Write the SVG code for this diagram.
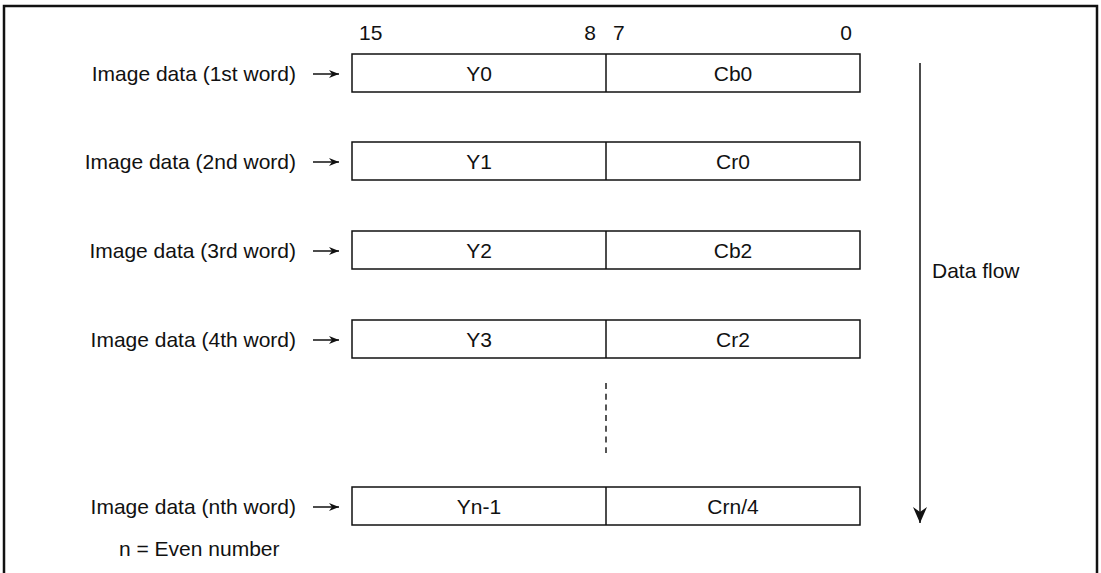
<svg xmlns="http://www.w3.org/2000/svg" width="1101" height="573" viewBox="0 0 1101 573">
<defs>
<style>
text{font-family:"Liberation Sans",Arial,sans-serif;font-size:21px;fill:#111}
.lbl{text-anchor:end}
.mid{text-anchor:middle}
.box{fill:#fff;stroke:#111;stroke-width:1.5}
.div{stroke:#111;stroke-width:1.5}
.ar{stroke:#111;stroke-width:1.5;fill:none}
</style>
<marker id="ah" viewBox="0 0 10 10" refX="10" refY="5" markerWidth="10" markerHeight="10" markerUnits="userSpaceOnUse" orient="auto">
<path d="M0,1 L10,5 L0,9 L3,5 Z" fill="#111"/>
</marker>
<marker id="big" viewBox="0 0 14 16" refX="7" refY="16" markerWidth="14" markerHeight="16" markerUnits="userSpaceOnUse" orient="0">
<path d="M0,0 L7,5 L14,0 L7,16 Z" fill="#111"/>
</marker>
</defs>
<rect width="1101" height="573" fill="#fff"/>
<path d="M4,573 V6 H1097 V573" fill="none" stroke="#111" stroke-width="2.5"/>

<g id="bits">
<text x="359" y="40">15</text>
<text x="596" y="40" class="lbl">8</text>
<text x="613" y="40">7</text>
<text x="852" y="40" class="lbl">0</text>
</g>

<g id="row1">
<rect class="box" x="352" y="54" width="508" height="38"/>
<line class="div" x1="606" y1="54" x2="606" y2="92"/>
<text x="479" y="81" class="mid">Y0</text>
<text x="733" y="81" class="mid">Cb0</text>
<text x="296" y="81" class="lbl">Image data (1st word)</text>
</g>
<g id="row2">
<rect class="box" x="352" y="142" width="508" height="38"/>
<line class="div" x1="606" y1="142" x2="606" y2="180"/>
<text x="479" y="169" class="mid">Y1</text>
<text x="733" y="169" class="mid">Cr0</text>
<text x="296" y="169" class="lbl">Image data (2nd word)</text>
</g>
<g id="row3">
<rect class="box" x="352" y="231" width="508" height="38"/>
<line class="div" x1="606" y1="231" x2="606" y2="269"/>
<text x="479" y="258" class="mid">Y2</text>
<text x="733" y="258" class="mid">Cb2</text>
<text x="296" y="258" class="lbl">Image data (3rd word)</text>
</g>
<g id="row4">
<rect class="box" x="352" y="320" width="508" height="38"/>
<line class="div" x1="606" y1="320" x2="606" y2="358"/>
<text x="479" y="347" class="mid">Y3</text>
<text x="733" y="347" class="mid">Cr2</text>
<text x="296" y="347" class="lbl">Image data (4th word)</text>
</g>
<g id="rown">
<rect class="box" x="352" y="487" width="508" height="38"/>
<line class="div" x1="606" y1="487" x2="606" y2="525"/>
<text x="479" y="514" class="mid">Yn-1</text>
<text x="733" y="514" class="mid">Crn/4</text>
<text x="296" y="514" class="lbl">Image data (nth word)</text>
</g>
<g id="note">
<text x="119" y="556">n = Even number</text>
</g>
<g id="flow">
<text x="932" y="278">Data flow</text>
</g>

<g id="connectors">
<line class="ar" x1="313" y1="74" x2="339" y2="74" marker-end="url(#ah)"/>
<line class="ar" x1="313" y1="162" x2="339" y2="162" marker-end="url(#ah)"/>
<line class="ar" x1="313" y1="251" x2="339" y2="251" marker-end="url(#ah)"/>
<line class="ar" x1="313" y1="340" x2="339" y2="340" marker-end="url(#ah)"/>
<line class="ar" x1="313" y1="507" x2="339" y2="507" marker-end="url(#ah)"/>
<line x1="606" y1="383" x2="606" y2="453" stroke="#555" stroke-width="2" stroke-dasharray="6,4.7"/>
<line x1="920" y1="63" x2="920" y2="523" stroke="#111" stroke-width="1.5" marker-end="url(#big)"/>
</g>
</svg>
